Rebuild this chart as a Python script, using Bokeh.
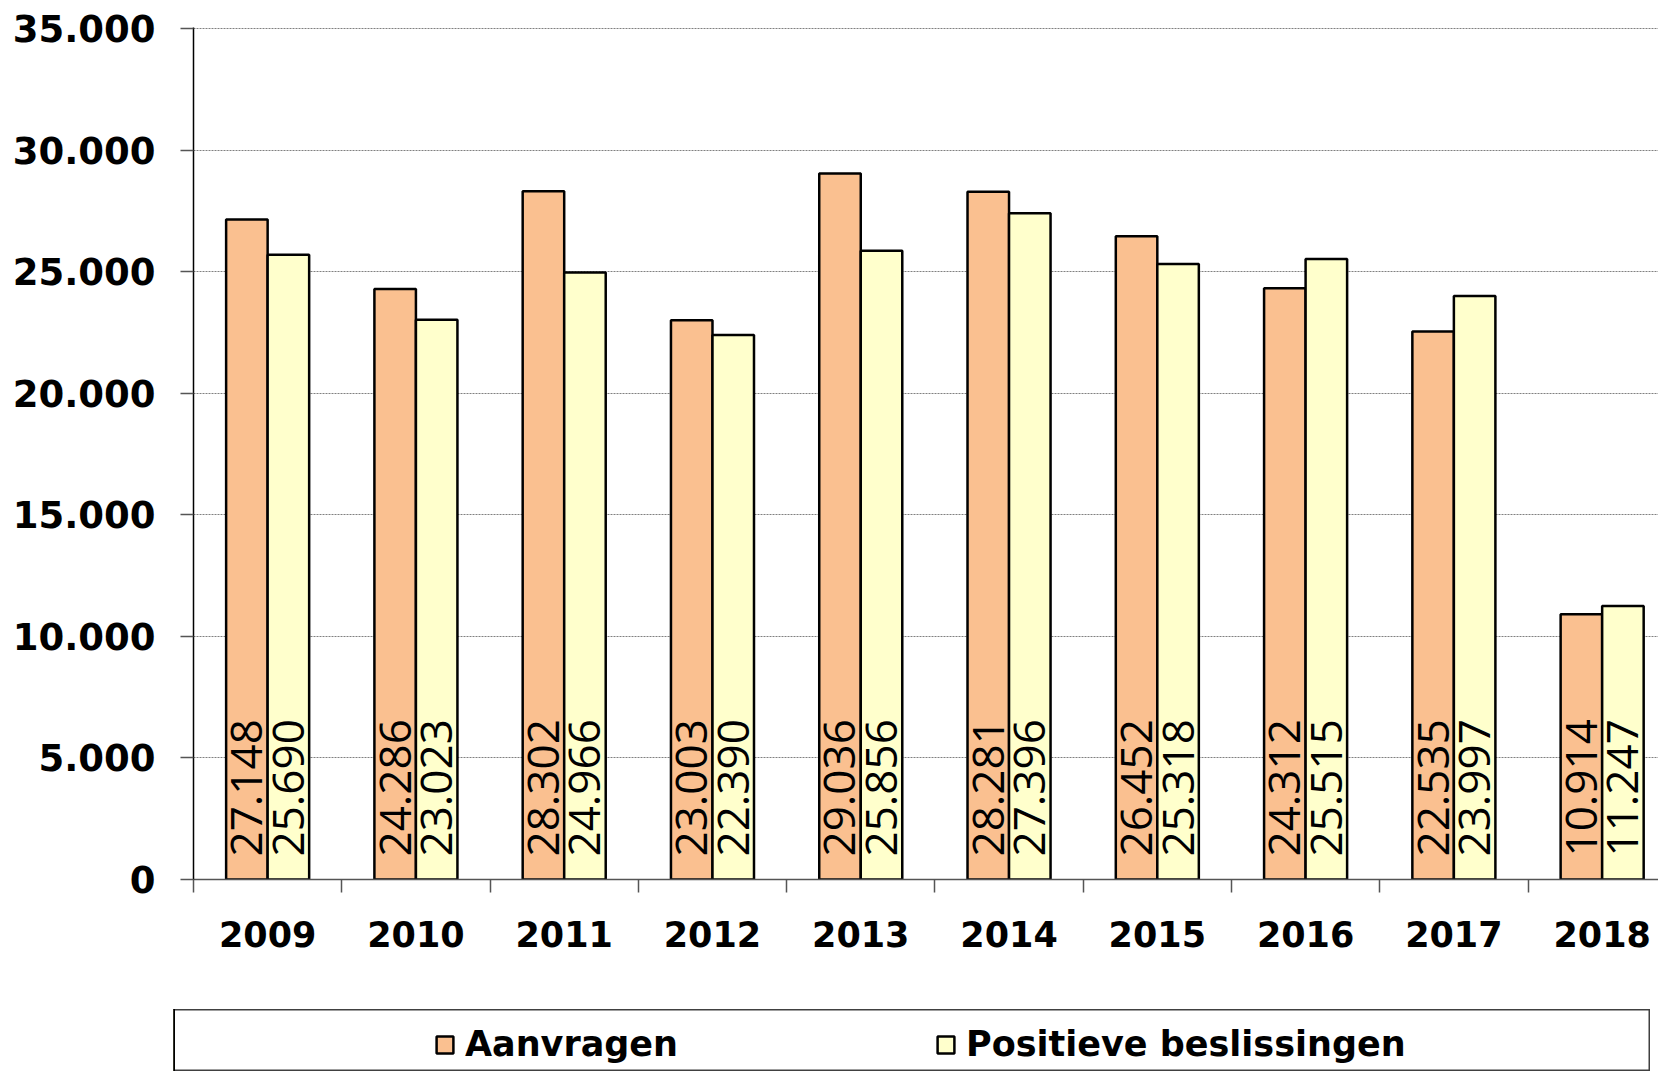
import math
from bokeh.plotting import figure
from bokeh.models import (ColumnDataSource, FixedTicker, Range1d, Legend, LegendItem, Spacer)
from bokeh.layouts import column, row
from bokeh.core.properties import value
from bokeh.embed import file_html
from bokeh.resources import INLINE

years = ["2009", "2010", "2011", "2012", "2013", "2014", "2015", "2016", "2017", "2018"]
aanvragen = [27148, 24286, 28302, 23003, 29036, 28281, 26452, 24312, 22535, 10914]
positieve = [25690, 23023, 24966, 22390, 25856, 27396, 25318, 25515, 23997, 11247]
y_ticks = [0, 5000, 10000, 15000, 20000, 25000, 30000, 35000]
y_tick_labels = ["0", "5.000", "10.000", "15.000", "20.000", "25.000", "30.000", "35.000"]
series_names = ["Aanvragen", "Positieve beslissingen"]

ORANGE = "#FAC090"
YELLOW = "#FFFFCC"
FONT = "DejaVu Sans"
FS = "35px"
LBL_FONT = "Open Sans"
LBL_FS = "44px"

def fmt(v):
    return f"{v:,}".replace(",", ".")

n = len(years)
centers = [i + 0.5 for i in range(n)]
bw = 0.28

src_a = ColumnDataSource(dict(x=[c - bw / 2 for c in centers], top=aanvragen,
                              lbl=[fmt(v) for v in aanvragen]))
src_p = ColumnDataSource(dict(x=[c + bw / 2 for c in centers], top=positieve,
                              lbl=[fmt(v) for v in positieve]))

p = figure(width=1658, height=1009, output_backend="svg", toolbar_location=None,
           x_range=Range1d(0, 9.88), y_range=Range1d(0, 35040),
           min_border_left=193, min_border_right=0, min_border_top=27, min_border_bottom=130)
p.outline_line_color = None
p.background_fill_color = "white"
p.border_fill_color = "white"

ra = p.vbar(x="x", top="top", width=bw, bottom=0, source=src_a,
            fill_color=ORANGE, line_color="black", line_width=2.5)
rp = p.vbar(x="x", top="top", width=bw, bottom=0, source=src_p,
            fill_color=YELLOW, line_color="black", line_width=2.5)

for src in (src_a, src_p):
    p.text(x="x", y=0, text="lbl", source=src, angle=math.pi / 2,
           text_align="left", text_baseline="middle", y_offset=-23,
           text_font=value(LBL_FONT), text_font_style="normal", text_font_size=LBL_FS,
           text_color="black")

# axes
p.yaxis.ticker = FixedTicker(ticks=y_ticks)
p.yaxis.major_label_overrides = {t: l for t, l in zip(y_ticks, y_tick_labels)}
p.yaxis.major_tick_out = 13
p.yaxis.major_tick_in = 0
p.yaxis.minor_tick_line_color = None
p.yaxis.axis_line_color = "black"
p.yaxis.axis_line_width = 1.5
p.yaxis.major_tick_line_color = "#555555"
p.yaxis.major_tick_line_width = 1.5
p.yaxis.major_label_standoff = 25

p.xaxis.ticker = FixedTicker(ticks=centers, minor_ticks=list(range(n + 1)))
p.xaxis.major_label_overrides = {c: y for c, y in zip(centers, years)}
p.xaxis.major_tick_out = 0
p.xaxis.major_tick_in = 0
p.xaxis.minor_tick_out = 13
p.xaxis.minor_tick_in = 0
p.xaxis.minor_tick_line_color = "#555555"
p.xaxis.minor_tick_line_width = 1.5
p.xaxis.axis_line_color = "#555555"
p.xaxis.axis_line_width = 1.5
p.xaxis.major_label_standoff = 28

for ax in (p.xaxis, p.yaxis):
    ax.major_label_text_font = FONT
    ax.major_label_text_font_style = "bold"
    ax.major_label_text_color = "black"
p.xaxis.major_label_text_font_size = FS
p.yaxis.major_label_text_font_size = "37px"

p.xgrid.grid_line_color = None
p.ygrid.ticker = FixedTicker(ticks=y_ticks[1:])
p.ygrid.grid_line_color = "#808080"
p.ygrid.grid_line_dash = "2 1"
p.ygrid.grid_line_width = 1

# legend box as a separate figure (bars lie outside its visible range)
lf = figure(width=1477, height=62, output_backend="svg", toolbar_location=None,
            x_axis_type=None, y_axis_type=None, x_range=Range1d(100, 101), y_range=Range1d(100, 101),
            min_border=0)
lf.outline_line_color = "#404040"
lf.outline_line_width = 2
la = lf.vbar(x="x", top="top", width=bw, source=src_a,
             fill_color=ORANGE, line_color="black", line_width=2.5)
lp = lf.vbar(x="x", top="top", width=bw, source=src_p,
             fill_color=YELLOW, line_color="black", line_width=2.5)
legend = Legend(items=[LegendItem(label=series_names[0], renderers=[la]),
                       LegendItem(label=series_names[1], renderers=[lp])],
                orientation="horizontal", location=(261, 7),
                padding=0, margin=0, spacing=0, label_width=470,
                glyph_width=21, glyph_height=21, label_standoff=10,
                label_text_font=FONT, label_text_font_style="bold",
                label_text_font_size=FS, label_text_color="black",
                border_line_color=None, background_fill_alpha=0)
lf.add_layout(legend)

layout = column(p, row(Spacer(width=173, height=62), lf))
open("out.html", "w").write(file_html(layout, INLINE))
